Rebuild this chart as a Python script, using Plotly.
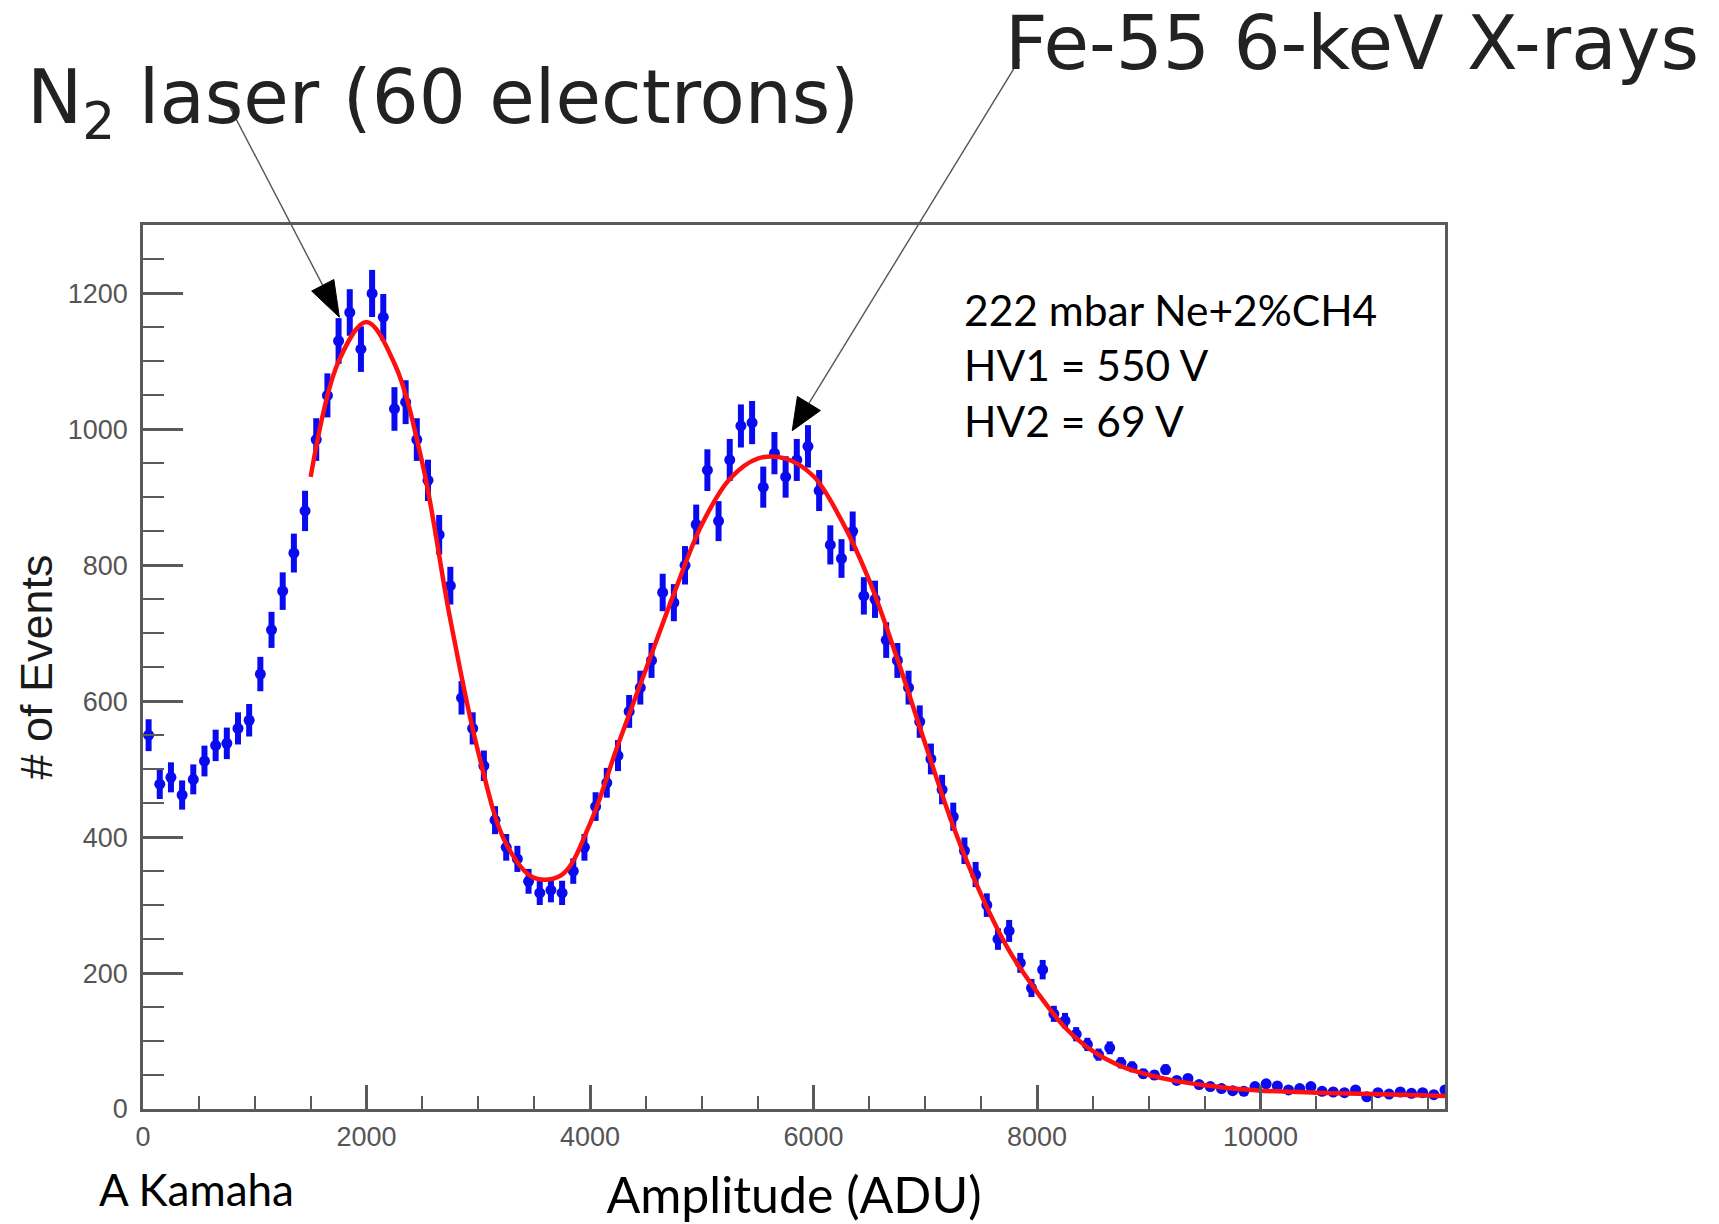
import plotly.graph_objects as go

# ---------------- data ----------------
bin_centers = list(range(50, 11700, 100))  # histogram bin centres (ADU)

counts = [
    550, 478, 488, 462, 485, 512, 535, 538, 560, 572,
    640, 705, 762, 818, 880, 985, 1050, 1130, 1172, 1118,
    1200, 1165, 1030, 1040, 985, 925, 845, 770, 605, 560,
    505, 425, 385, 368, 335, 318, 322, 318, 350, 385,
    445, 480, 520, 585, 620, 660, 760, 745, 800, 860,
    940, 865, 955, 1005, 1010, 915, 965, 930, 955, 975,
    910, 830, 810, 850, 755, 750, 690, 660, 620, 570,
    515, 470, 430, 380, 345, 300, 250, 262, 215, 178,
    205, 140, 130, 110, 95, 80, 90, 68, 62, 52,
    50, 58, 42, 45, 36, 33, 30, 27, 26, 33,
    37, 34, 28, 30, 33, 26, 25, 24, 28, 18,
    24, 22, 25, 23, 24, 21, 28,
]

fit_x = [1500, 1750, 2000, 2250, 2500, 2750, 3000, 3250, 3500, 3750,
         4000, 4250, 4500, 4750, 5000, 5250, 5500, 5750, 6000, 6250,
         6500, 6750, 7000, 7250, 7500, 7750, 8000, 8250, 8500, 8750,
         9000, 9250, 9500, 9750, 10000, 10500, 11000, 11650]
fit_y = [930, 1100, 1158, 1097, 950, 720, 525, 390, 340, 345,
         420, 536, 647, 758, 860, 927, 957, 957, 931, 866,
         777, 662, 537, 416, 315, 233, 172, 120, 85, 63,
         50, 41, 35, 30, 27, 24, 22, 19]

x_tick_vals = [0, 2000, 4000, 6000, 8000, 10000]
y_tick_vals = [0, 200, 400, 600, 800, 1000, 1200]

title_left = "N<sub>2</sub> laser (60 electrons)"
title_right = "Fe-55 6-keV X-rays"
info_lines = ["222 mbar Ne+2%CH4", "HV1 = 550 V", "HV2 = 69 V"]
credit = "A Kamaha"
x_title = "Amplitude (ADU)"
y_title = "# of Events"

X_MAX = 11650
Y_MAX = 1300.7

# ---------------- figure ----------------
AXIS_GREY = "#5a5a5a"
BLUE = "#0a0af0"
TICK_FONT = dict(family="Liberation Sans, Arial, sans-serif", size=27, color="#555555")

fig = go.Figure()

fig.add_trace(go.Scatter(
    x=bin_centers, y=counts, mode="markers",
    marker=dict(color=BLUE, size=11, symbol="circle", line=dict(width=0)),
    error_y=dict(type="sqrt", color=BLUE, thickness=6, width=0),
    hoverinfo="x+y", name="data",
))

fig.add_trace(go.Scatter(
    x=fit_x, y=fit_y, mode="lines",
    line=dict(color="#ff1010", width=4.5, shape="spline", smoothing=1.0),
    name="fit",
))

fig.update_layout(
    width=1719, height=1224,
    margin=dict(l=142.5, r=274, t=225, b=114.5, pad=0, autoexpand=False),
    paper_bgcolor="white", plot_bgcolor="white",
    showlegend=False,
)

fig.update_xaxes(
    range=[0, X_MAX], tickvals=x_tick_vals, tickformat="d", automargin=False,
    ticks="inside", ticklen=24, tickwidth=2.5, tickcolor=AXIS_GREY,
    showline=True, linecolor=AXIS_GREY, linewidth=2.5, mirror=True,
    showgrid=False, zeroline=False, ticklabelstandoff=2,
    minor=dict(dtick=500, tick0=0, ticks="inside", ticklen=13, tickwidth=2, tickcolor=AXIS_GREY, showgrid=False),
    tickfont=TICK_FONT,
    title=dict(text=x_title, font=dict(family="Lato, sans-serif", size=50, color="black"), standoff=33),
)

fig.update_yaxes(
    range=[0, Y_MAX], tickvals=y_tick_vals, tickformat="d", automargin=False,
    ticks="inside", ticklen=40, tickwidth=2.5, tickcolor=AXIS_GREY,
    showline=True, linecolor=AXIS_GREY, linewidth=2.5, mirror=True,
    showgrid=False, zeroline=False, ticklabelstandoff=7,
    minor=dict(dtick=50, tick0=0, ticks="inside", ticklen=21, tickwidth=2, tickcolor=AXIS_GREY, showgrid=False),
    tickfont=TICK_FONT,
    title=dict(text=y_title, font=dict(family="Liberation Sans, Arial, sans-serif", size=45, color="#1a1a1a"), standoff=2),
)

ann = []
ann.append(dict(text=title_left, xref="paper", yref="paper", x=-0.091, y=1.1388,
                xanchor="left", yanchor="middle", showarrow=False,
                font=dict(family="DejaVu Sans, sans-serif", size=74, color="#222222")))
ann.append(dict(text=title_right, xref="paper", yref="paper", x=0.6607, y=1.2058,
                xanchor="left", yanchor="middle", showarrow=False,
                font=dict(family="DejaVu Sans, sans-serif", size=74, color="#222222")))
ann.append(dict(text="<br>".join(info_lines), xref="paper", yref="paper", x=0.6292, y=0.8417,
                xanchor="left", yanchor="middle", align="left", showarrow=False,
                font=dict(family="Lato, sans-serif", size=42.5, color="black")))
ann.append(dict(text=credit, xref="paper", yref="paper", x=-0.0357, y=-0.091,
                xanchor="left", yanchor="middle", showarrow=False,
                font=dict(family="Lato, sans-serif", size=44, color="black")))
fig.update_layout(annotations=ann)

# pointer arrows: tip (data units), tail offset in pixels (x right, y up), head length/half-width
arrows = [
    dict(tip=(1757, 1165), tail=(-113, 217), L=36, w=12.5),
    dict(tip=(5809, 998), tail=(227.5, 371.7), L=32, w=13.5),
]
PLOT_W = 1302.5
PLOT_H = 884.5
shapes = []
for a in arrows:
    tx, ty = a["tip"]
    dx, dy = a["tail"]
    n = (dx * dx + dy * dy) ** 0.5
    ux, uy = dx / n, dy / n          # unit vector tip -> tail
    px_, py_ = -uy, ux               # perpendicular
    bx, by = ux * a["L"], uy * a["L"]
    c1 = (bx + px_ * a["w"], by + py_ * a["w"])
    c2 = (bx - px_ * a["w"], by - py_ * a["w"])
    x_tip_p = tx / X_MAX
    y_tip_p = ty / Y_MAX
    shapes.append(dict(type="line", xref="paper", yref="paper",
                       x0=x_tip_p + bx / PLOT_W, y0=y_tip_p + by / PLOT_H,
                       x1=x_tip_p + dx / PLOT_W, y1=y_tip_p + dy / PLOT_H,
                       line=dict(color="#555555", width=1.4)))
    shapes.append(dict(type="path", xref="x", yref="y", xsizemode="pixel", ysizemode="pixel",
                       xanchor=tx, yanchor=ty,
                       path=f"M0,0 L{c1[0]:.1f},{c1[1]:.1f} L{c2[0]:.1f},{c2[1]:.1f} Z",
                       fillcolor="black", line=dict(color="black", width=1)))
fig.update_layout(shapes=shapes)

fig.write_html("out.html")
